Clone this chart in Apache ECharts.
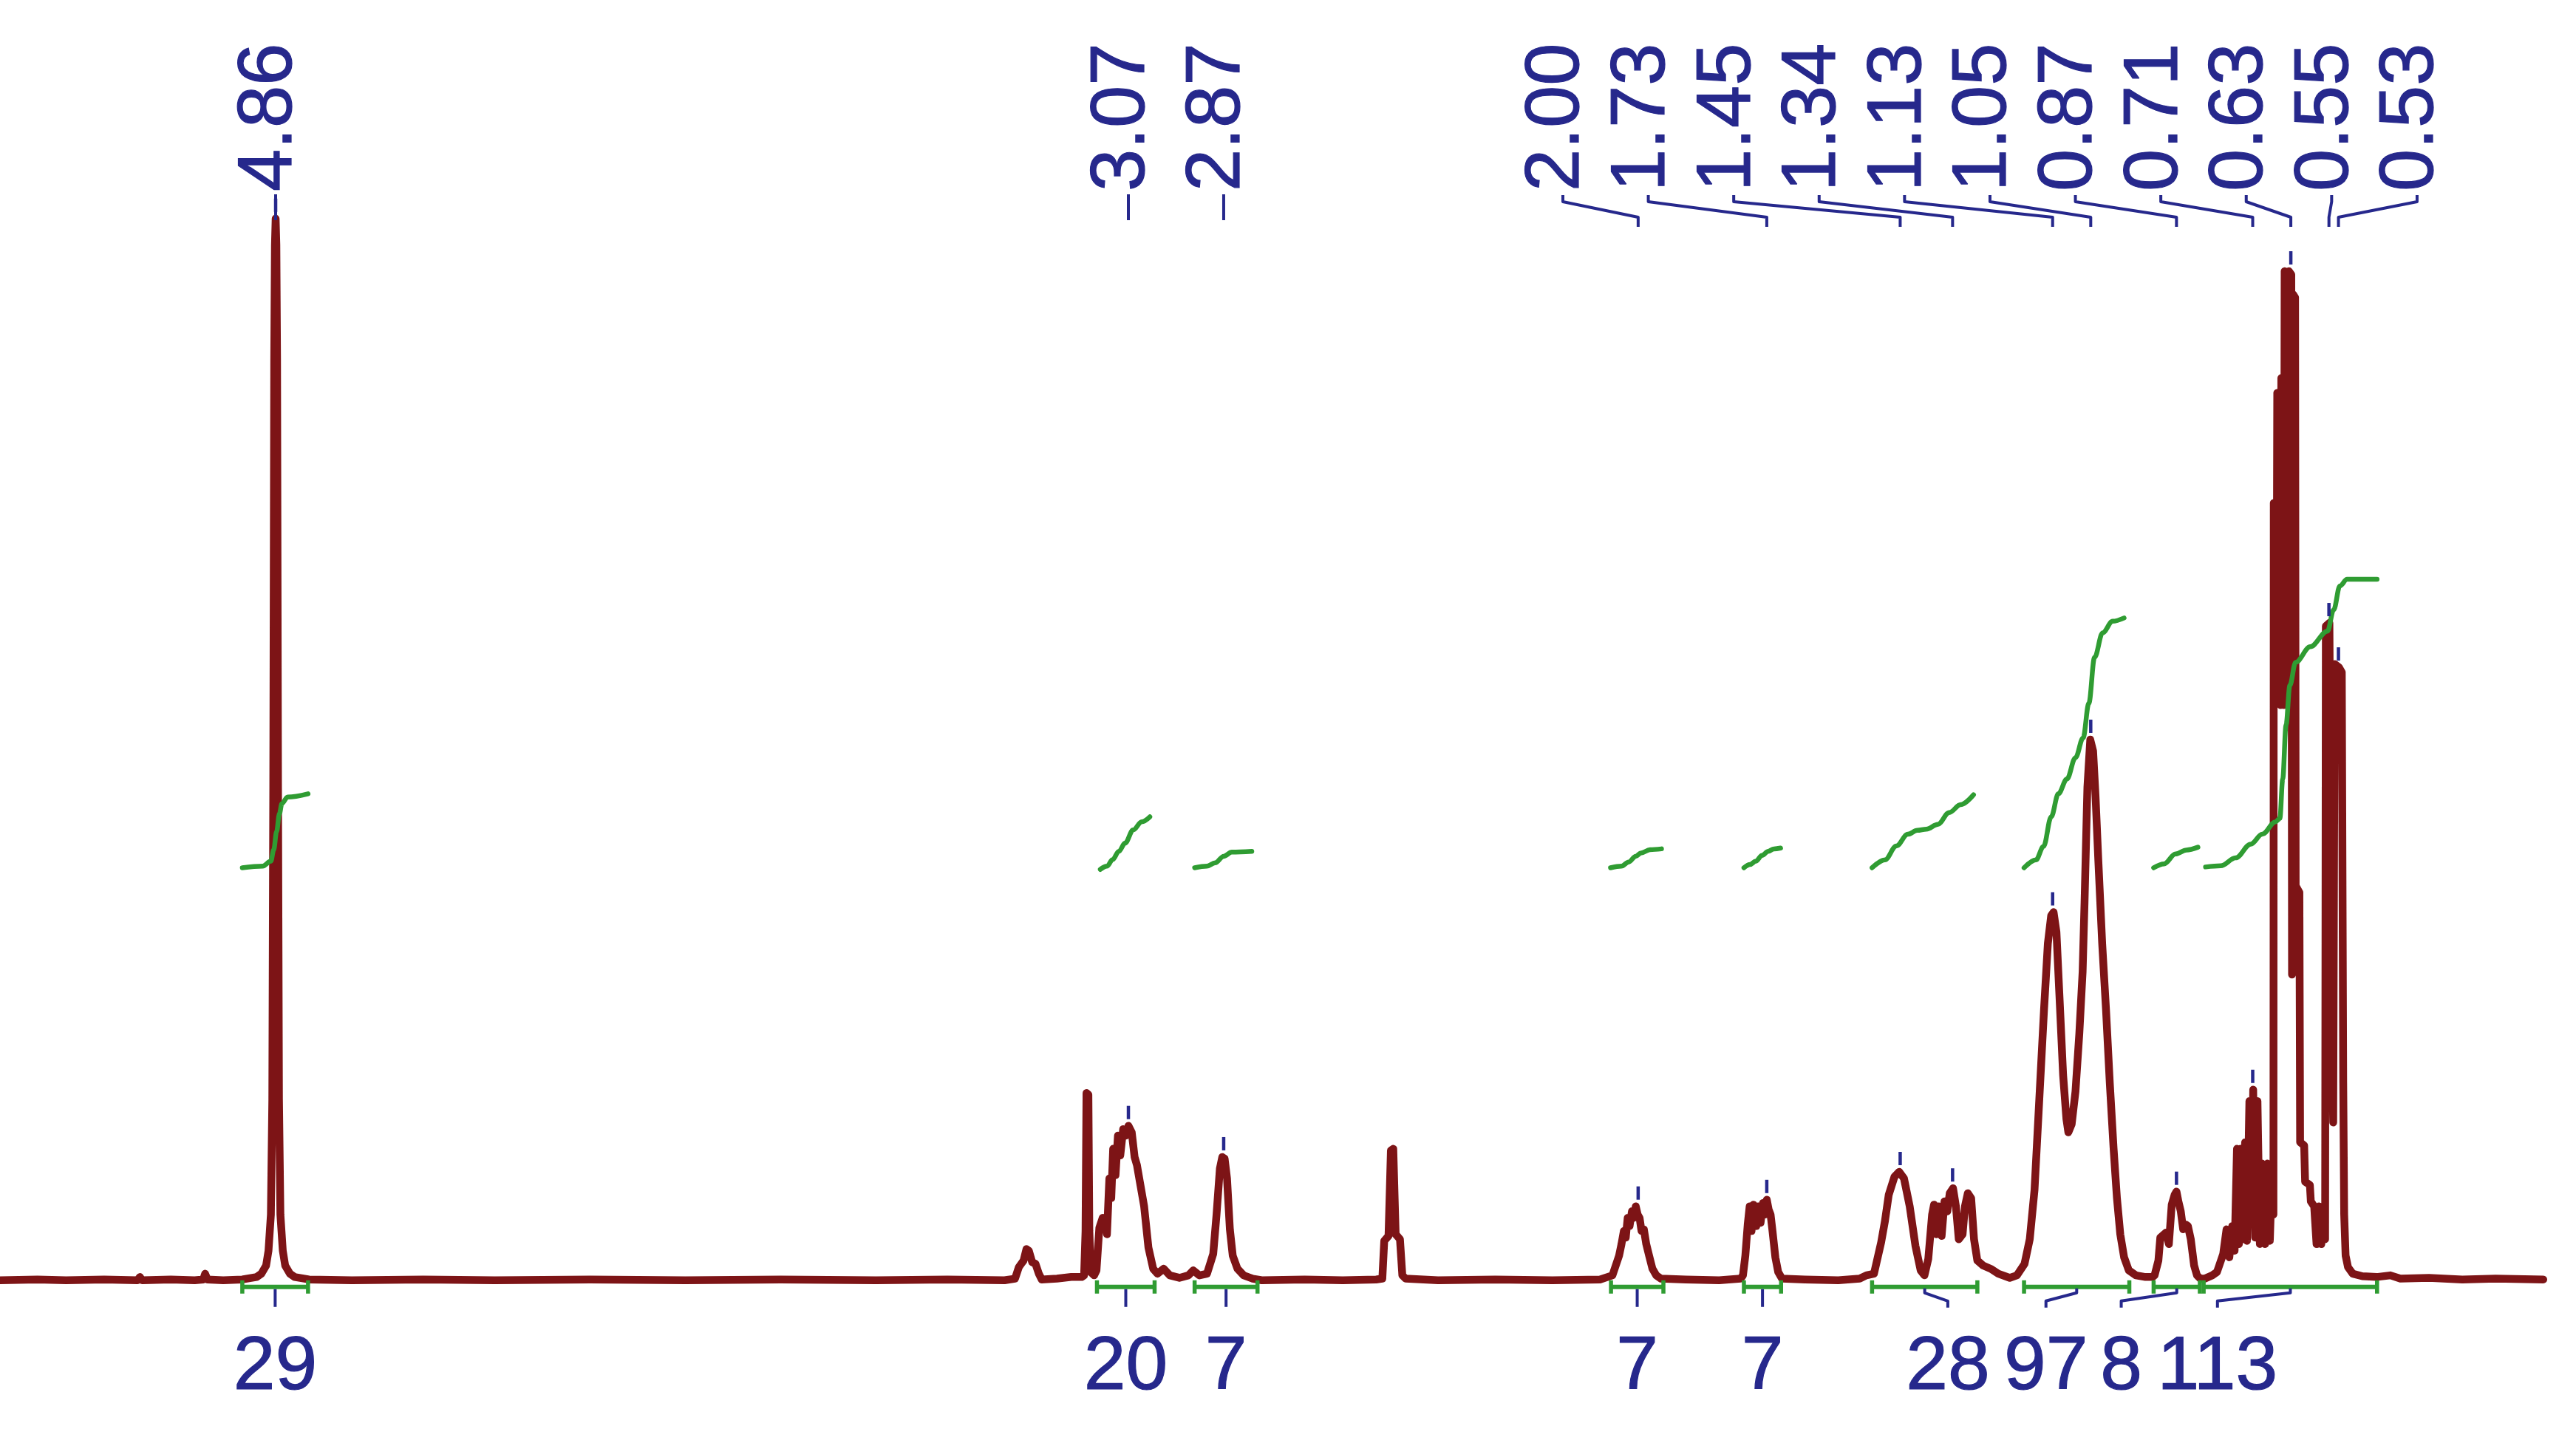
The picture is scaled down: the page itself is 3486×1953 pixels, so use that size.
<!DOCTYPE html>
<html>
<head>
<meta charset="utf-8">
<script src="https://cdn.jsdelivr.net/npm/echarts@6/dist/echarts.min.js"></script>
<style>
html,body{margin:0;padding:0;background:#ffffff;}
#chart{width:3486px;height:1953px;}
</style>
</head>
<body>
<div id="chart"></div>
<script>
// ---------------- DATA ----------------
// 1H NMR spectrum: [chemical shift (ppm), intensity (arbitrary units, baseline = 0)]
const spectrum = [
[5.44,0],[5.36,0.5],[5.30,0],[5.22,0.5],[5.15,0],[5.145,2],[5.14,0],[5.08,0.5],[5.03,0],[5.012,0.5],[5.008,4],[5.003,0.5],[4.97,0],[4.93,0.5],
[4.90,2],[4.89,4],[4.88,9],[4.875,18],[4.87,40],[4.867,110],[4.865,300],[4.863,560],[4.8615,630],[4.860,646],[4.8585,630],[4.857,560],[4.855,300],[4.853,110],[4.85,40],[4.845,18],[4.84,9],[4.83,4],[4.82,2],[4.79,0.5],
[4.70,0],[4.55,0.5],[4.40,0],[4.20,0.5],[4.00,0],[3.80,0.5],[3.60,0],[3.45,0.5],[3.33,0],
[3.308,1],[3.300,8],[3.295,10],[3.290,12],[3.284,19],[3.279,18],[3.272,11],[3.265,10],[3.258,4],[3.252,0.5],
[3.22,1],[3.19,2],[3.168,2],
[3.163,3],[3.160,30],[3.158,114],[3.154,113],[3.152,30],[3.149,5],
[3.142,3],[3.137,6],[3.131,32],[3.124,38],[3.118,36],[3.115,28],[3.110,62],[3.106,50],[3.102,80],[3.097,64],[3.092,88],[3.087,76],[3.081,92],[3.075,88],[3.070,94],[3.063,90],[3.057,75],[3.052,70],[3.046,60],[3.037,45],[3.028,20],[3.018,7],[3.009,4],[2.996,7],[2.983,3],[2.963,1.5],[2.944,3],[2.934,6],[2.921,3],[2.905,4],[2.892,16],[2.885,40],[2.878,68],[2.873,75],[2.868,74],[2.863,62],[2.857,31],[2.851,15],[2.841,7],[2.828,3],[2.809,1],[2.79,0],
[2.70,0.5],[2.62,0],[2.55,0.5],[2.537,1],
[2.533,24],[2.524,27],[2.519,79],[2.514,80],[2.509,28],[2.500,25],[2.495,3],[2.488,1],
[2.42,0],[2.30,0.5],[2.18,0],[2.08,0.5],
[2.054,3],[2.040,15],[2.035,22],[2.030,30],[2.026,26],[2.022,38],[2.018,33],[2.013,42],[2.009,38],[2.005,45],[2.001,40],[1.997,38],[1.993,30],[1.988,31],[1.983,22],[1.977,15],[1.970,7],[1.962,3],[1.952,1],
[1.90,0.5],[1.83,0],[1.785,1],
[1.780,3],[1.775,15],[1.770,34],[1.766,45],[1.762,30],[1.758,46],[1.752,33],[1.748,45],[1.743,35],[1.738,47],[1.734,40],[1.730,49],[1.726,43],[1.722,40],[1.718,30],[1.712,14],[1.706,5],[1.698,1],
[1.65,0.5],[1.58,0],[1.535,1],
[1.521,3],[1.505,4],[1.490,23],[1.482,36],[1.474,52],[1.462,63],[1.452,66],[1.442,62],[1.430,45],[1.418,21],[1.407,6],[1.399,3],
[1.391,13],[1.383,40],[1.379,46],[1.374,28],[1.369,45],[1.363,27],[1.357,48],[1.351,42],[1.346,53],[1.339,56],[1.333,45],[1.327,25],[1.319,28],[1.314,45],[1.308,53],[1.301,50],[1.295,25],[1.288,12],[1.276,9],[1.260,7],[1.244,4],[1.22,1.5],
[1.205,3],[1.189,10],[1.178,25],[1.168,55],[1.158,110],[1.148,165],[1.140,205],[1.133,222],[1.128,224],[1.122,212],[1.116,175],[1.108,125],[1.101,98],[1.097,90],[1.090,95],[1.082,115],[1.074,150],[1.067,188],[1.063,230],[1.057,300],[1.051,329],[1.045,322],[1.040,295],[1.034,255],[1.026,205],[1.018,165],[1.010,120],[1.002,80],[0.995,50],[0.988,28],[0.980,14],[0.970,6],[0.955,3],[0.935,2],[0.920,2],
[0.916,3],[0.908,12],[0.904,26],[0.896,28],[0.892,29],[0.886,22],[0.880,46],[0.874,52],[0.870,54],[0.866,48],[0.861,42],[0.856,31],[0.851,34],[0.846,33],[0.840,25],[0.833,9],[0.827,3],[0.820,1],
[0.811,1],[0.795,3],[0.785,5],[0.772,16],[0.765,31],[0.759,14],[0.753,33],[0.748,18],[0.743,80],[0.739,22],[0.735,80],[0.731,25],[0.726,84],[0.722,24],[0.717,109],[0.713,35],[0.709,116],[0.705,26],[0.700,109],[0.695,22],[0.690,71],[0.684,22],[0.679,71],[0.674,24],[0.669,71],[0.6665,40],
[0.6658,473],[0.6610,470],[0.6600,360],[0.6585,540],[0.6530,535],[0.6515,350],[0.6500,549],[0.6460,545],[0.6445,350],[0.6430,614],[0.6370,612],[0.6355,430],[0.6340,614],[0.6290,612],[0.6275,186],[0.6255,600],[0.6210,598],[0.6198,240],[0.6120,236],[0.6105,84],[0.6020,82],[0.600,60],[0.590,58],[0.588,48],[0.581,45],[0.576,22],[0.571,45],[0.566,22],[0.561,40],[0.558,25],
[0.5565,398],[0.549,400],[0.544,150],[0.541,96],[0.538,375],[0.529,373],[0.523,370],[0.520,120],[0.518,40],[0.515,15],[0.510,8],[0.500,4],[0.48,2.5],[0.45,2],[0.421,3],[0.40,1],[0.34,1.5],[0.27,0.5],[0.20,1],[0.10,0.5]
];

// Picked peaks: chemical shift and the intensity of the peak top
const peakPpm     = [4.86, 3.07, 2.87, 2.00, 1.73, 1.45, 1.34, 1.13, 1.05, 0.87, 0.71, 0.63, 0.55, 0.53];
const peakHeights = [646, 94, 75, 45, 49, 66, 56, 224, 329, 54, 116, 614, 400, 373];

// Integral regions [from ppm, to ppm] and their integral values
const integralRanges = [[4.930,4.792],[3.136,3.015],[2.931,2.799],[2.057,1.947],[1.778,1.700],[1.509,1.288],[1.190,0.969],[0.918,0.821],[0.813,0.449]];
const integralValues = [29, 20, 7, 7, 7, 28, 97, 8, 113];

// Integral curves: [ppm, level]
const integralCurves = [
 [[4.930,251],[4.887,252],[4.870,255],[4.864,262],[4.858,273],[4.852,284],[4.847,290],[4.835,294],[4.792,296]],
 [[3.129,250],[3.115,252],[3.103,256],[3.090,261],[3.077,266],[3.060,274],[3.042,279],[3.025,282]],
 [[2.931,251],[2.905,252],[2.888,254],[2.870,258],[2.853,260.5],[2.811,261]],
 [[2.058,251],[2.035,252],[2.020,254.5],[2.005,258],[1.994,260],[1.975,262],[1.951,262.5]],
 [[1.778,251],[1.765,253],[1.753,255],[1.740,258.5],[1.727,261],[1.715,262.5],[1.701,263]],
 [[1.509,251],[1.482,255.8],[1.458,264.2],[1.434,271.4],[1.414,273.8],[1.395,274.5],[1.371,277.4],[1.347,284.6],[1.323,289.4],[1.296,295.4]],
 [[1.190,251],[1.165,255.8],[1.149,264],[1.133,282],[1.118,296],[1.100,305],[1.082,318],[1.066,330],[1.054,351],[1.042,379],[1.025,394],[1.004,401],[0.980,403]],
 [[0.918,251],[0.896,253.4],[0.872,259.4],[0.849,261.8],[0.825,263.5]],
 [[0.809,251.5],[0.777,252.2],[0.746,257],[0.714,265.4],[0.690,271.4],[0.662,279],[0.653,281],[0.647,305],[0.640,338],[0.632,362],[0.620,376],[0.589,385.5],[0.553,395],[0.540,408],[0.527,422.5],[0.512,426.5],[0.449,426.5]]
];

// ---------------- LAYOUT (label placement, not data) ----------------
const X_MIN = 0.0314, X_MAX = 5.4386;
const Y_MIN = -99, Y_MAX = 779;
const crowdStart = 2.158, crowdStep = 0.1793;   // spread of the crowded peak labels (ppm)
const peakLabelAt = peakPpm.map((p, i) => i < 3 ? p : crowdStart - (i - 3) * crowdStep);
const integralLabelAt = [null, null, null, null, null, 1.350, 1.144, 0.986, 0.784];

const RED = '#7d1416', GREEN = '#2f9c32', BLUE = '#26288c';
const FONT = '"Liberation Sans", Arial, Helvetica, sans-serif';

const chart = echarts.init(document.getElementById('chart'), null, {renderer: 'canvas'});

const series = [];

// spectrum
series.push({
  type: 'line', data: spectrum, showSymbol: false, symbol: 'none', z: 2,
  lineStyle: {color: RED, width: 10.5, join: 'round', cap: 'round'}, animation: false
});

// integral curves
integralCurves.forEach(c => series.push({
  type: 'line', data: c, showSymbol: false, symbol: 'none', z: 4, smooth: 0.35, smoothMonotone: 'x',
  lineStyle: {color: GREEN, width: 6.5, cap: 'round'}, animation: false
}));

// integral ranges (green bars at the baseline)
series.push({
  type: 'custom', z: 3, animation: false,
  data: integralRanges.map((r, i) => [r[0], r[1], i]),
  renderItem: (params, api) => {
    const a = api.coord([api.value(0), 0]);
    const b = api.coord([api.value(1), 0]);
    const y = a[1] + 9;
    return {type: 'group', children: [
      {type: 'line', shape: {x1: a[0], y1: y, x2: b[0], y2: y}, style: {stroke: GREEN, lineWidth: 6}},
      {type: 'line', shape: {x1: a[0], y1: y - 9, x2: a[0], y2: y + 9}, style: {stroke: GREEN, lineWidth: 5.5}},
      {type: 'line', shape: {x1: b[0], y1: y - 9, x2: b[0], y2: y + 9}, style: {stroke: GREEN, lineWidth: 5.5}}
    ]};
  }
});

// integral value labels with leaders
series.push({
  type: 'custom', z: 5, animation: false,
  data: integralRanges.map((r, i) => [(r[0] + r[1]) / 2, 0, i]),
  renderItem: (params, api) => {
    const i = params.dataIndex;
    const mid = api.coord([api.value(0), 0]);
    const lp = integralLabelAt[i] == null ? api.value(0) : integralLabelAt[i];
    const lab = api.coord([lp, 0]);
    const y0 = mid[1];
    const children = [];
    if (integralLabelAt[i] == null) {
      children.push({type: 'line', shape: {x1: mid[0], y1: y0 + 12, x2: mid[0], y2: y0 + 36}, style: {stroke: BLUE, lineWidth: 4}});
    } else {
      children.push({type: 'polyline', shape: {points: [[mid[0], y0 + 11], [mid[0], y0 + 17], [lab[0], y0 + 28], [lab[0], y0 + 37]]},
        style: {stroke: BLUE, lineWidth: 4, fill: 'none', lineJoin: 'round'}});
    }
    children.push({type: 'text', x: lab[0], y: 1852,
      style: {text: String(integralValues[i]), fill: BLUE, fontSize: 102, fontFamily: FONT, align: 'center', verticalAlign: 'middle',
              stroke: BLUE, lineWidth: 1.2}});
    return {type: 'group', children};
  }
});

// peak labels, leaders and peak markers
series.push({
  type: 'custom', z: 6, animation: false,
  data: peakPpm.map((p, i) => [p, peakHeights[i], i]),
  renderItem: (params, api) => {
    const i = params.dataIndex;
    const pk = api.coord([api.value(0), api.value(1)]);
    const lx = api.coord([peakLabelAt[i], 0])[0];
    const children = [];
    // marker just above the peak top
    children.push({type: 'line', shape: {x1: pk[0], y1: pk[1] - 27, x2: pk[0], y2: pk[1] - 9}, style: {stroke: BLUE, lineWidth: 4.5}});
    if (i < 3) {
      children.push({type: 'line', shape: {x1: pk[0], y1: 263, x2: pk[0], y2: 298}, style: {stroke: BLUE, lineWidth: 4}});
    } else {
      children.push({type: 'polyline', shape: {points: [[lx, 264], [lx, 273], [pk[0], 294], [pk[0], 307]]},
        style: {stroke: BLUE, lineWidth: 4, fill: 'none', lineJoin: 'round'}});
    }
    children.push({type: 'text', x: lx - 7, y: 259, rotation: Math.PI / 2,
      style: {text: peakPpm[i].toFixed(2), fill: BLUE, fontSize: 103, fontFamily: FONT, align: 'left', verticalAlign: 'middle',
              stroke: BLUE, lineWidth: 1.2}});
    return {type: 'group', children};
  }
});

chart.setOption({
  animation: false,
  backgroundColor: '#ffffff',
  grid: {left: 0, right: 0, top: 0, bottom: 0, containLabel: false},
  xAxis: {type: 'value', min: X_MIN, max: X_MAX, inverse: true, show: false},
  yAxis: {type: 'value', min: Y_MIN, max: Y_MAX, show: false},
  series
});
</script>
</body>
</html>
